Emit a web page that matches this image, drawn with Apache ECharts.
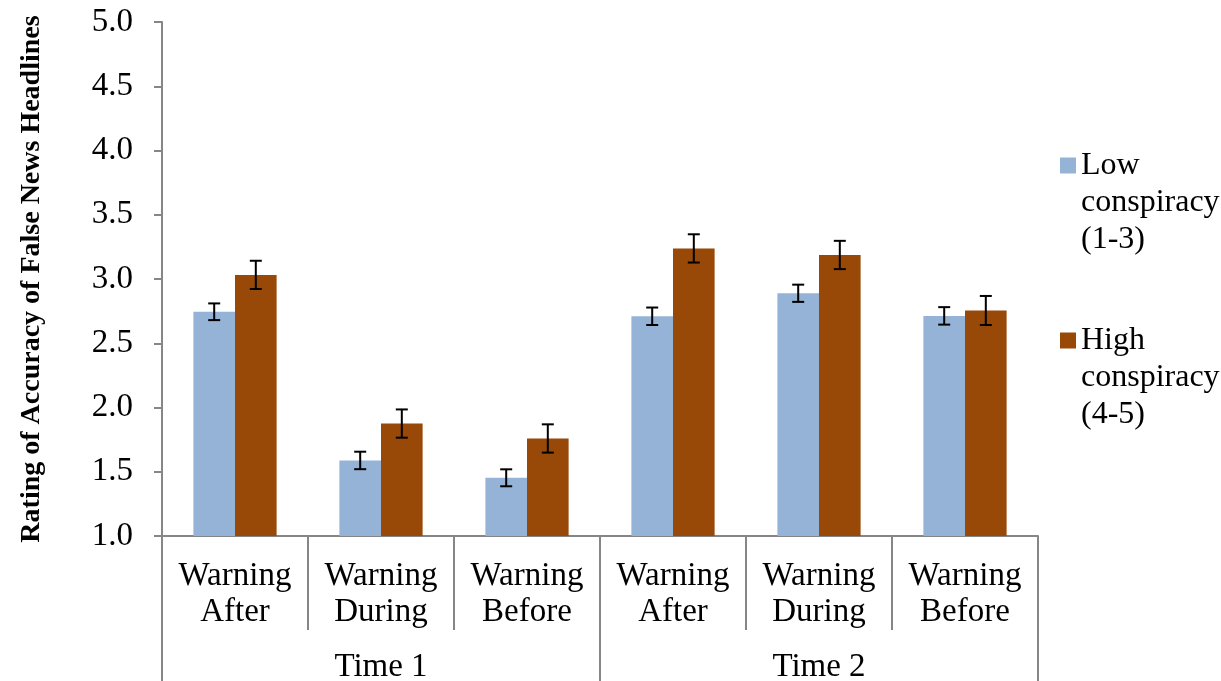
<!DOCTYPE html>
<html>
<head>
<meta charset="utf-8">
<script src="https://cdn.jsdelivr.net/npm/echarts@6/dist/echarts.min.js"></script>
<style>html,body{margin:0;padding:0;background:#fff;}#chart{width:1221px;height:681px;}</style>
</head>
<body>
<div id="chart"></div>
<script>
const categories = ['Warning\nAfter', 'Warning\nDuring', 'Warning\nBefore', 'Warning\nAfter', 'Warning\nDuring', 'Warning\nBefore'];
const timeGroups = ['Time 1', 'Time 2'];
const seriesNames = ['Low\nconspiracy\n(1-3)', 'High\nconspiracy\n(4-5)'];
const lowMeans = [2.745, 1.588, 1.453, 2.71, 2.889, 2.713];
const lowErr = [0.065, 0.068, 0.066, 0.068, 0.067, 0.068];
const highMeans = [3.032, 1.875, 1.759, 3.238, 3.187, 2.755];
const highErr = [0.11, 0.11, 0.11, 0.11, 0.11, 0.113];

const FONT = '"Liberation Serif", "Times New Roman", serif';
const AXIS_COLOR = '#868686';
const BAR_FRAC = 0.285;

function errData(means, errs) {
  return means.map((m, i) => [i, m - errs[i], m + errs[i]]);
}
function errSeries(means, errs, side) {
  return {
    type: 'custom',
    xAxisIndex: 0,
    yAxisIndex: 0,
    z: 10,
    silent: true,
    encode: { x: 0, y: [1, 2] },
    data: errData(means, errs),
    renderItem: function (params, api) {
      const idx = api.value(0);
      const lo = api.coord([idx, api.value(1)]);
      const hi = api.coord([idx, api.value(2)]);
      const band = api.size([1, 0])[0];
      const x = lo[0] + side * band * BAR_FRAC / 2;
      const cap = 6;
      const style = { stroke: '#000', lineWidth: 2 };
      return {
        type: 'group',
        children: [
          { type: 'line', shape: { x1: x, y1: lo[1], x2: x, y2: hi[1] }, style: style },
          { type: 'line', shape: { x1: x - cap, y1: lo[1], x2: x + cap, y2: lo[1] }, style: style },
          { type: 'line', shape: { x1: x - cap, y1: hi[1], x2: x + cap, y2: hi[1] }, style: style }
        ]
      };
    }
  };
}

const chart = echarts.init(document.getElementById('chart'), null, { renderer: 'canvas' });
chart.setOption({
  animation: false,
  backgroundColor: '#fff',
  grid: { left: 162, right: 183, top: 22, bottom: 145, containLabel: false, outerBoundsMode: 'none' },
  legend: {
    orient: 'vertical',
    left: 1055,
    top: 68,
    itemWidth: 16,
    itemHeight: 16,
    itemGap: -10,
    icon: 'rect',
    data: seriesNames,
    formatter: name => ' \n \n' + name,
    textStyle: { fontFamily: FONT, fontSize: 32, color: '#000', lineHeight: 37 }
  },
  xAxis: [
    {
      type: 'category',
      data: categories,
      position: 'bottom',
      axisLine: { show: true, lineStyle: { color: AXIS_COLOR, width: 2 } },
      axisTick: { show: true, interval: 0, length: 94, lineStyle: { color: AXIS_COLOR, width: 2 } },
      axisLabel: { interval: 0, margin: 22, fontFamily: FONT, fontSize: 33, lineHeight: 36, color: '#000' },
      splitLine: { show: false }
    },
    {
      type: 'category',
      data: timeGroups,
      position: 'bottom',
      axisLine: { show: false },
      axisTick: { show: true, interval: 0, length: 145, lineStyle: { color: AXIS_COLOR, width: 2 } },
      axisLabel: { interval: 0, margin: 115, fontFamily: FONT, fontSize: 33, color: '#000' },
      splitLine: { show: false }
    }
  ],
  yAxis: {
    type: 'value',
    min: 1,
    max: 5,
    interval: 0.5,
    name: 'Rating of Accuracy of False News Headlines',
    nameLocation: 'middle',
    nameGap: 116,
    nameRotate: 90,
    nameTextStyle: { fontFamily: FONT, fontSize: 28, fontWeight: 'bold', color: '#000' },
    axisLine: { show: true, lineStyle: { color: AXIS_COLOR, width: 2 } },
    axisTick: { show: true, length: 8, lineStyle: { color: AXIS_COLOR, width: 2 } },
    axisLabel: { margin: 29, fontFamily: FONT, fontSize: 33, color: '#000', formatter: v => v.toFixed(1) },
    splitLine: { show: false }
  },
  series: [
    {
      name: seriesNames[0],
      type: 'bar',
      xAxisIndex: 0,
      data: lowMeans,
      barGap: '0%',
      barCategoryGap: '43%',
      itemStyle: { color: '#95B3D7' }
    },
    {
      name: seriesNames[1],
      type: 'bar',
      xAxisIndex: 0,
      data: highMeans,
      barGap: '0%',
      barCategoryGap: '43%',
      itemStyle: { color: '#984807' }
    },
    errSeries(lowMeans, lowErr, -1),
    errSeries(highMeans, highErr, 1)
  ]
});
</script>
</body>
</html>
